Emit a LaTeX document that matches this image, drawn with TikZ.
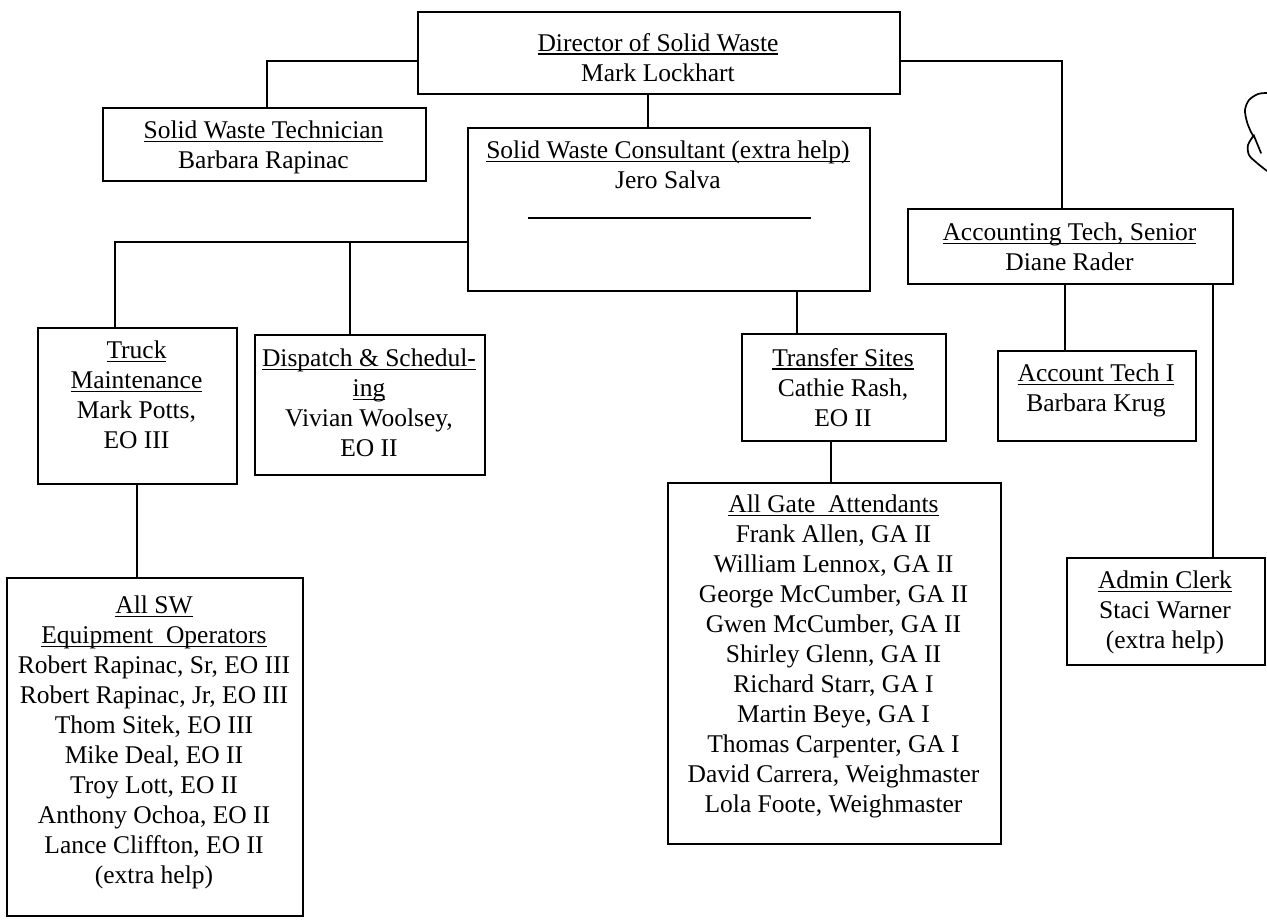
\documentclass[tikz,border=0pt]{standalone}
\usepackage{fontspec}
\setmainfont{Liberation Serif}
\newcommand\ulx[1]{\setbox0\hbox{#1}\rlap{\rule[-3.5pt]{\wd0}{1.3pt}}\box0}
\begin{document}
\begin{tikzpicture}[x=1pt,y=-1pt,
  box/.style={draw, line width=2.3pt, inner sep=0pt, anchor=north west},
  lbl/.style={align=center, inner sep=0pt, anchor=north, font=\fontsize{25.5}{30}\selectfont},
  conn/.style={line width=2pt},
  pen/.style={line width=1.7pt, line cap=round, line join=round}]
\useasboundingbox (0,0) rectangle (1267,920);

% boxes
\node[box, minimum width=482pt, minimum height=82pt] (dir) at (417,11) {};
\node[lbl] (dirt) at (658,33) {\ulx{Director of Solid Waste}\\Mark Lockhart};

\node[box, minimum width=323pt, minimum height=73pt] (tech) at (102,107) {};
\node[lbl] (techt) at (263.5,121) {\ulx{Solid Waste Technician}\\Barbara Rapinac};

\node[box, minimum width=402pt, minimum height=163pt] (cons) at (467,127) {};
\node[lbl] (const) at (668,141) {\ulx{Solid Waste Consultant (extra help)}\\Jero Salva};
\draw[line width=1.5pt] (528,218) -- (811,218);

\node[box, minimum width=325pt, minimum height=75pt] (acct) at (907,208) {};
\node[lbl] (acctt) at (1069.5,223) {\ulx{Accounting Tech, Senior}\\Diane Rader};

\node[box, minimum width=199pt, minimum height=156pt] (truck) at (37,327) {};
\node[lbl] (truckt) at (136.5,341) {\ulx{Truck}\\\ulx{Maintenance}\\Mark Potts,\\EO III};

\node[box, minimum width=230pt, minimum height=140pt] (disp) at (254,334) {};
\node[lbl] (dispt) at (369,349) {\ulx{Dispatch \& Schedul-}\\\ulx{ing}\\Vivian Woolsey,\\EO II};

\node[box, minimum width=204pt, minimum height=107pt] (trans) at (741,333) {};
\node[lbl] (transt) at (843,348) {\ulx{Transfer Sites}\\Cathie Rash,\\EO II};

\node[box, minimum width=198pt, minimum height=90pt] (acti) at (997,350) {};
\node[lbl] (actit) at (1096,364) {\ulx{Account Tech I}\\Barbara Krug};

\node[box, minimum width=333pt, minimum height=361pt] (gate) at (667,482) {};
\node[lbl] (gatet) at (833.5,495) {\ulx{All Gate\ \ Attendants}\\Frank Allen, GA II\\William Lennox, GA II\\George McCumber, GA II\\Gwen McCumber, GA II\\Shirley Glenn, GA II\\Richard Starr, GA I\\Martin Beye, GA I\\Thomas Carpenter, GA I\\David Carrera, Weighmaster\\Lola Foote, Weighmaster};

\node[box, minimum width=198pt, minimum height=107pt] (admin) at (1066,557) {};
\node[lbl] (admint) at (1165,571) {\ulx{Admin Clerk}\\Staci Warner\\(extra help)};

\node[box, minimum width=296pt, minimum height=338pt] (equip) at (6,577) {};
\node[lbl] (equipt) at (154,596) {\ulx{All SW}\\\ulx{Equipment\ \ Operators}\\Robert Rapinac, Sr, EO III\\Robert Rapinac, Jr, EO III\\Thom Sitek, EO III\\Mike Deal, EO II\\Troy Lott, EO II\\Anthony Ochoa, EO II\\Lance Cliffton, EO II\\(extra help)};

% connectors
\coordinate (k1) at (267,61);
\draw[conn] (dir.west |- k1) -| (tech.north -| k1);
\coordinate (k2) at (648,0);
\draw[conn] (dir.south -| k2) -- (cons.north -| k2);
\coordinate (k3) at (1062,61);
\draw[conn] (dir.east |- k3) -| (acct.north -| k3);
\coordinate (k4) at (115,242);
\draw[conn] (cons.west |- k4) -| (truck.north -| k4);
\coordinate (k5) at (350,242);
\draw[conn] (k5) -- (disp.north -| k5);
\coordinate (k6) at (797,0);
\draw[conn] (cons.south -| k6) -- (trans.north -| k6);
\coordinate (k7) at (831,0);
\draw[conn] (trans.south -| k7) -- (gate.north -| k7);
\coordinate (k8) at (1065,0);
\draw[conn] (acct.south -| k8) -- (acti.north -| k8);
\coordinate (k9) at (1213,0);
\draw[conn] (acct.south -| k9) -- (admin.north -| k9);
\coordinate (k10) at (137,0);
\draw[conn] (truck.south -| k10) -- (equip.north -| k10);

% handwritten mark
\draw[pen] plot[smooth] coordinates {(1267,93) (1258,94) (1249,100) (1245,110) (1247,122) (1251,132) (1254,137)};
\draw[pen] plot[smooth] coordinates {(1254,135) (1248,145) (1249,155) (1257,163) (1267,171)};
\draw[pen] (1254,136) -- (1261,153);
\end{tikzpicture}
\end{document}
